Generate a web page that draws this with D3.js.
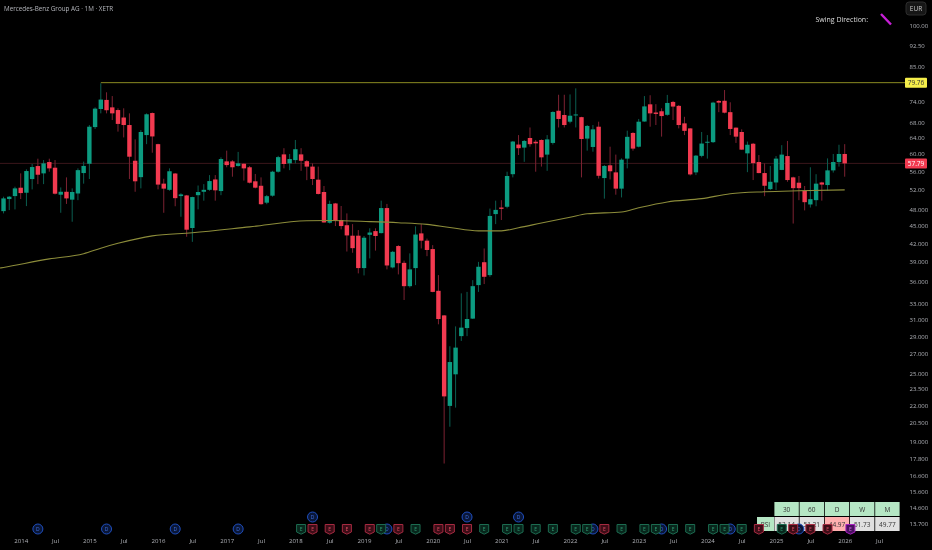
<!DOCTYPE html>
<html><head><meta charset="utf-8">
<script src="https://cdn.jsdelivr.net/npm/d3@7"></script>
<style>html,body{margin:0;padding:0;background:#000;overflow:hidden}svg{display:block;filter:blur(0.3px)}text{font-family:"Open Sans",sans-serif}</style>
</head><body><svg id="c" width="932" height="550"></svg>
<script>
const firstMonth = -3; // months from Jan 2014 of the first bar
const opens = [47.76,50.12,50.72,52.44,51.4,54.28,57.18,55.53,58.1,56.8,
51.0,51.6,50.0,51.25,55.6,57.7,66.8,71.8,74.45,72.27,
71.5,69.4,67.35,58.4,54.7,64.7,70.65,62.4,53.3,52.0,
55.5,50.72,50.85,44.65,50.9,51.6,52.0,54.2,51.75,58.25,
58.25,57.2,57.7,56.9,53.8,52.85,49.4,50.8,55.9,59.9,
57.8,58.55,59.9,58.3,
57.05,54.15,51.55,45.6,49.25,46.1,45.15,43.3,43.3,38.05,
43.45,44.1,43.75,48.35,38.15,41.55,38.85,35.4,38.05,43.7,
42.45,41.05,34.75,31.5,21.95,24.9,29.0,29.95,31.1,35.55,
38.95,37.0,47.2,48.45,48.6,55.35,
62.3,61.55,63.95,63.0,63.45,59.85,62.7,71.3,70.1,68.25,
70.0,69.5,63.8,61.7,66.9,54.5,57.35,55.75,52.25,58.9,
65.25,61.77,68.3,73.15,70.8,71.15,70.15,73.85,72.7,67.8,
66.45,55.75,59.55,62.8,62.9,74.15,74.2,70.9,66.65,65.5,
60.15,62.5,58.1,55.6,52.15,53.55,56.3,59.5,54.65,53.5,
51.8,49.05,49.9,53.55,53.0,56.2,58.1,60.0];
const closes = [50.25,50.59,52.30,51.33,56.05,56.95,55.23,57.79,56.65,51.2,
51.6,50.25,51.55,56.25,57.2,66.9,71.9,74.55,71.45,70.56,
67.65,67.35,59.35,53.8,65.5,70.3,64.35,53.1,52.25,56.0,
50.3,51.06,44.35,50.52,51.55,52.0,53.85,51.9,58.8,57.4,
56.9,57.8,56.65,53.5,52.45,49.1,50.7,55.9,59.25,57.65,
58.8,61.15,58.4,57.05,
54.3,51.15,45.65,49.15,45.95,45.0,43.35,41.2,38.05,42.95,
43.85,43.25,48.35,38.45,40.6,38.8,35.4,37.85,43.5,42.45,
40.9,34.6,31.05,22.8,26.15,27.7,30.0,31.05,35.4,38.25,
36.75,46.85,48.0,48.2,54.95,63.05,
61.4,63.2,62.4,62.6,59.2,63.6,70.95,69.0,67.35,69.9,
70.25,63.7,67.1,66.2,55.0,57.2,56.0,52.25,58.65,64.25,
61.3,68.25,72.55,70.56,70.4,69.8,73.55,72.5,67.35,65.8,
55.3,59.6,62.55,63.0,73.65,73.65,70.75,66.3,64.3,61.05,
62.25,57.85,55.6,52.85,53.7,58.9,59.85,54.07,52.35,52.35,
49.5,50.1,53.3,53.1,56.2,58.1,60.0,57.79];
const highs = [50.59,50.72,52.65,55.53,56.44,57.64,58.88,58.56,58.88,58.56,
52.5,54.65,52.3,56.65,58.2,67.35,72.27,79.55,76.75,75.6,
72.0,72.0,70.56,63.6,66.0,70.56,70.8,62.5,54.35,56.65,
55.6,51.3,50.95,50.59,52.9,53.2,55.15,55.15,59.2,60.8,
58.55,60.5,57.8,57.2,55.4,54.65,50.95,56.1,59.55,61.4,
60.0,63.45,61.4,58.55,
57.79,57.05,52.8,49.8,49.35,48.75,47.33,45.35,44.28,43.25,
44.6,44.6,49.8,49.15,40.75,41.7,39.2,40.35,44.95,45.35,
42.8,41.7,37.0,31.55,27.85,30.15,34.4,34.6,36.26,39.0,
41.15,48.25,49.8,49.9,55.9,63.2,
64.7,63.45,66.7,63.45,63.6,64.7,71.15,76.0,76.0,76.1,
77.97,69.6,67.35,67.35,68.25,57.4,61.77,59.85,58.95,65.85,
65.45,69.0,75.6,75.85,73.2,72.0,75.95,74.15,72.95,69.6,
66.5,59.75,65.5,64.7,73.9,74.4,77.45,73.75,66.7,66.2,
63.05,62.7,59.75,57.79,57.2,59.5,62.15,63.2,54.8,54.95,
52.8,56.9,55.35,53.7,58.95,60.0,62.25,62.4];
const lows = [47.33,47.96,48.09,50.12,48.73,52.09,53.2,53.2,55.9,51.05,
47.45,49.15,45.78,49.9,53.3,54.3,66.3,70.56,70.56,68.7,
65.6,64.1,54.3,51.6,52.3,62.4,60.3,52.1,47.45,51.8,
48.7,46.7,43.12,42.25,48.1,49.8,51.8,49.8,50.9,56.9,
54.8,57.05,53.95,53.35,52.3,49.0,49.1,50.6,55.7,56.65,
56.25,57.8,56.1,54.05,
53.0,51.05,45.6,45.45,45.0,44.4,40.65,40.45,37.25,36.95,
39.55,40.8,43.7,37.85,38.0,37.1,33.5,35.2,35.55,41.15,
39.9,34.55,30.4,17.44,20.2,21.8,28.45,29.0,31.05,34.6,
35.7,36.75,45.35,46.1,48.3,54.65,
59.75,58.15,61.77,55.9,57.05,56.1,62.3,66.7,66.7,67.8,
66.7,54.65,60.8,60.55,54.4,50.2,54.2,51.0,50.45,56.65,
60.8,61.6,68.25,66.9,67.35,64.3,69.9,68.7,66.45,64.7,
55.05,55.15,59.2,58.9,62.7,70.9,70.56,64.7,62.7,61.0,
55.8,54.07,55.55,50.7,51.95,51.95,56.25,53.7,45.45,49.9,
47.9,48.45,48.7,49.8,51.8,55.7,57.05,54.8];

const maMonths = [-4,-3,5,11,14,17,23,30,40,50,54,61,66,71,75,80,84,87,91,96,99,105,108,113,119,124,130,136,144];
const maValues = [38.0,38.15,39.47,40.3,41.2,42.0,43.27,43.8,44.85,45.95,46.0,45.8,45.6,45.3,44.75,44.15,44.15,44.7,45.55,46.6,47.25,47.6,48.4,49.55,50.2,51.2,51.6,51.8,52.0];

const priceTicks = [100,92.5,85,74,68,64,60,56,52,48,45,42,39,36,33,31,29,27,25,23.5,22,20.5,19,17.8,16.6,15.6,14.6,13.7];
const priceLabels = ["100.00","92.50","85.00","74.00","68.00","64.00","60.00","56.00","52.00","48.000","45.000","42.000","39.000","36.000","33.000","31.000","29.000","27.000","25.000","23.500","22.000","20.500","19.000","17.800","16.600","15.600","14.600","13.700"];
const timeTicks = [0,6,12,18,24,30,36,42,48,54,60,66,72,78,84,90,96,102,108,114,120,126,132,138,144,150];
const timeLabels = ["2014","Jul","2015","Jul","2016","Jul","2017","Jul","2018","Jul","2019","Jul","2020","Jul","2021","Jul","2022","Jul","2023","Jul","2024","Jul","2025","Jul","2026","Jul"];

const dividendLow = [3,15,27,38,64,100,112,124,136];
const dividendHigh = [51,78,87];
const earningsGreen = [49,63,69,81,85,87,90,93,97,99,105,109,111,114,117,121,123,126,133];
const earningsRed = [51,54,57,61,66,73,75,78,102,129,135,138,141];
const earningsNext = [145];

const resistance = 79.76, resistanceFrom = 14, lastPrice = 57.79;
const rsiHeaders = ["30","60","D","W","M"];
const rsiValues = ["53.14","51.21","44.97","51.73","49.77"];
const rsiBg = ["#e0e0e0","#e0e0e0","#ffb0b0","#e0e0e0","#e0e0e0"];

const svg = d3.select("#c");
const W = 932, H = 550;
svg.append("rect").attr("width",W).attr("height",H).attr("fill","#000");

const x = d3.scaleLinear().domain([0,144]).range([20.7,844.7]);
const y = d3.scaleLog().domain([13.7,100]).range([524,26]);
const plotRight = 905;
const UP = "#0c9b80", DN = "#f23a50", UPW = "#0b5e50", DNW = "#7d2232";

const bars = opens.map((o,k)=>({m:firstMonth+k,o,c:closes[k],h:highs[k],l:lows[k]}));

// price reference lines
svg.append("line").attr("x1",0).attr("x2",plotRight).attr("y1",y(lastPrice)).attr("y2",y(lastPrice)).attr("stroke","#4a1c22").attr("stroke-width",0.8);
svg.append("line").attr("x1",x(resistanceFrom)).attr("x2",plotRight).attr("y1",y(resistance)).attr("y2",y(resistance)).attr("stroke","#8a8a22").attr("stroke-width",1);

// wicks and bodies
svg.append("g").selectAll("line").data(bars).join("line")
 .attr("x1",d=>x(d.m)).attr("x2",d=>x(d.m)).attr("y1",d=>y(d.h)).attr("y2",d=>y(d.l))
 .attr("stroke",d=>d.c>=d.o?UPW:DNW).attr("stroke-width",1);
svg.append("g").selectAll("rect").data(bars).join("rect")
 .attr("x",d=>x(d.m)-2.2).attr("width",4.4)
 .attr("y",d=>y(Math.max(d.o,d.c))).attr("height",d=>Math.max(1,Math.abs(y(d.o)-y(d.c))))
 .attr("fill",d=>d.c>=d.o?UP:DN);

// moving average
svg.append("path").datum(maMonths.map((m,k)=>[m,maValues[k]]))
 .attr("d",d3.line().x(d=>x(d[0])).y(d=>y(d[1])).curve(d3.curveMonotoneX))
 .attr("fill","none").attr("stroke","#8c8c3a").attr("stroke-width",1.1);

// axes
const yAxis = svg.append("g").attr("transform",`translate(909.5,0)`)
 .call(d3.axisRight(y).tickValues(priceTicks).tickSize(0).tickPadding(0).tickFormat((d,k)=>priceLabels[k]));
yAxis.select(".domain").remove();
yAxis.selectAll("text").attr("fill","#b0b2b8").style("font-size","6px").style("font-family",'"Open Sans",sans-serif');
const xAxis = svg.append("g").attr("transform",`translate(0,538)`)
 .call(d3.axisBottom(x).tickValues(timeTicks).tickSize(0).tickPadding(1).tickFormat((d,k)=>timeLabels[k]));
xAxis.select(".domain").remove();
xAxis.selectAll("text").attr("fill","#b0b2b8").style("font-size","6.1px").style("font-family",'"Open Sans",sans-serif');

// price tags
function tag(v,bg,fg){
  const g = svg.append("g").attr("transform",`translate(905,${y(v)})`);
  g.append("rect").attr("x",0).attr("y",-5).attr("width",22).attr("height",10).attr("rx",1).attr("fill",bg);
  g.append("text").attr("x",11).attr("y",2.2).attr("text-anchor","middle").attr("font-size",6.5).attr("fill",fg).text(d3.format(".2f")(v));
}
tag(resistance,"#f5ee4a","#333");
tag(lastPrice,"#f23a50","#fff");

// title and top right widgets
svg.append("text").attr("x",4).attr("y",10.5).attr("font-size",6.3).attr("fill","#b4b6bc").text("Mercedes-Benz Group AG · 1M · XETR");
svg.append("text").attr("x",868).attr("y",22).attr("text-anchor","end").attr("font-size",7).attr("fill","#dcdcdc").text("Swing Direction:");
svg.append("line").attr("x1",881).attr("y1",14).attr("x2",891).attr("y2",24.5).attr("stroke","#c71fd6").attr("stroke-width",2.4);
svg.append("rect").attr("x",906).attr("y",2).attr("width",20).attr("height",13).attr("rx",3).attr("fill","#161616").attr("stroke","#2c2c2c");
svg.append("text").attr("x",916).attr("y",11).attr("text-anchor","middle").attr("font-size",6.5).attr("fill","#c8c8c8").text("EUR");

// RSI table
const t = svg.append("g");
const colX = d3.scaleBand().domain(d3.range(5)).range([774,900]);
rsiHeaders.forEach((h,k)=>{
  t.append("rect").attr("x",colX(k)+.4).attr("y",502).attr("width",colX.bandwidth()-.8).attr("height",14).attr("fill","#b5e6c4");
  t.append("text").attr("x",colX(k)+colX.bandwidth()/2).attr("y",511.5).attr("text-anchor","middle").attr("font-size",6.5).attr("fill","#333").text(h);
  t.append("rect").attr("x",colX(k)+.4).attr("y",517).attr("width",colX.bandwidth()-.8).attr("height",14).attr("fill",rsiBg[k]);
  t.append("text").attr("x",colX(k)+colX.bandwidth()/2).attr("y",526.5).attr("text-anchor","middle").attr("font-size",6.5).attr("fill","#333").text(rsiValues[k]);
});
t.append("rect").attr("x",757).attr("y",517).attr("width",17).attr("height",14).attr("fill","#b5e6c4");
t.append("text").attr("x",765.5).attr("y",526.5).attr("text-anchor","middle").attr("font-size",6.5).attr("fill","#333").text("RSI");

// event markers
function dMark(m,cy){
  const g = svg.append("g").attr("transform",`translate(${x(m)},${cy})`);
  g.append("circle").attr("r",5).attr("fill","#0a1738").attr("stroke","#1f4fc0").attr("stroke-width",1);
  g.append("text").attr("y",1.8).attr("text-anchor","middle").attr("font-size",5).attr("fill","#3f6fe0").text("D");
}
function eMark(m,stroke,fill,txt,cy){
  const g = svg.append("g").attr("transform",`translate(${x(m)},${cy})`);
  g.append("path").attr("d","M-4.5,-4.5 L4.5,-4.5 L4.5,3 L0,5.2 L-4.5,3 Z").attr("fill",fill).attr("stroke",stroke).attr("stroke-width",1);
  g.append("text").attr("y",1.8).attr("text-anchor","middle").attr("font-size",5).attr("fill",txt).text("E");
}
dividendLow.forEach(m=>dMark(m,529));
dividendHigh.forEach(m=>dMark(m,517));
earningsGreen.forEach(m=>eMark(m,"#1c6b50","#08261c","#2f9a72",529));
earningsRed.forEach(m=>eMark(m,"#a52a40","#3d0d17","#d94a60",529));
earningsNext.forEach(m=>eMark(m,"#a81fc0","#4a1060","#d070e0",529));
</script></body></html>
